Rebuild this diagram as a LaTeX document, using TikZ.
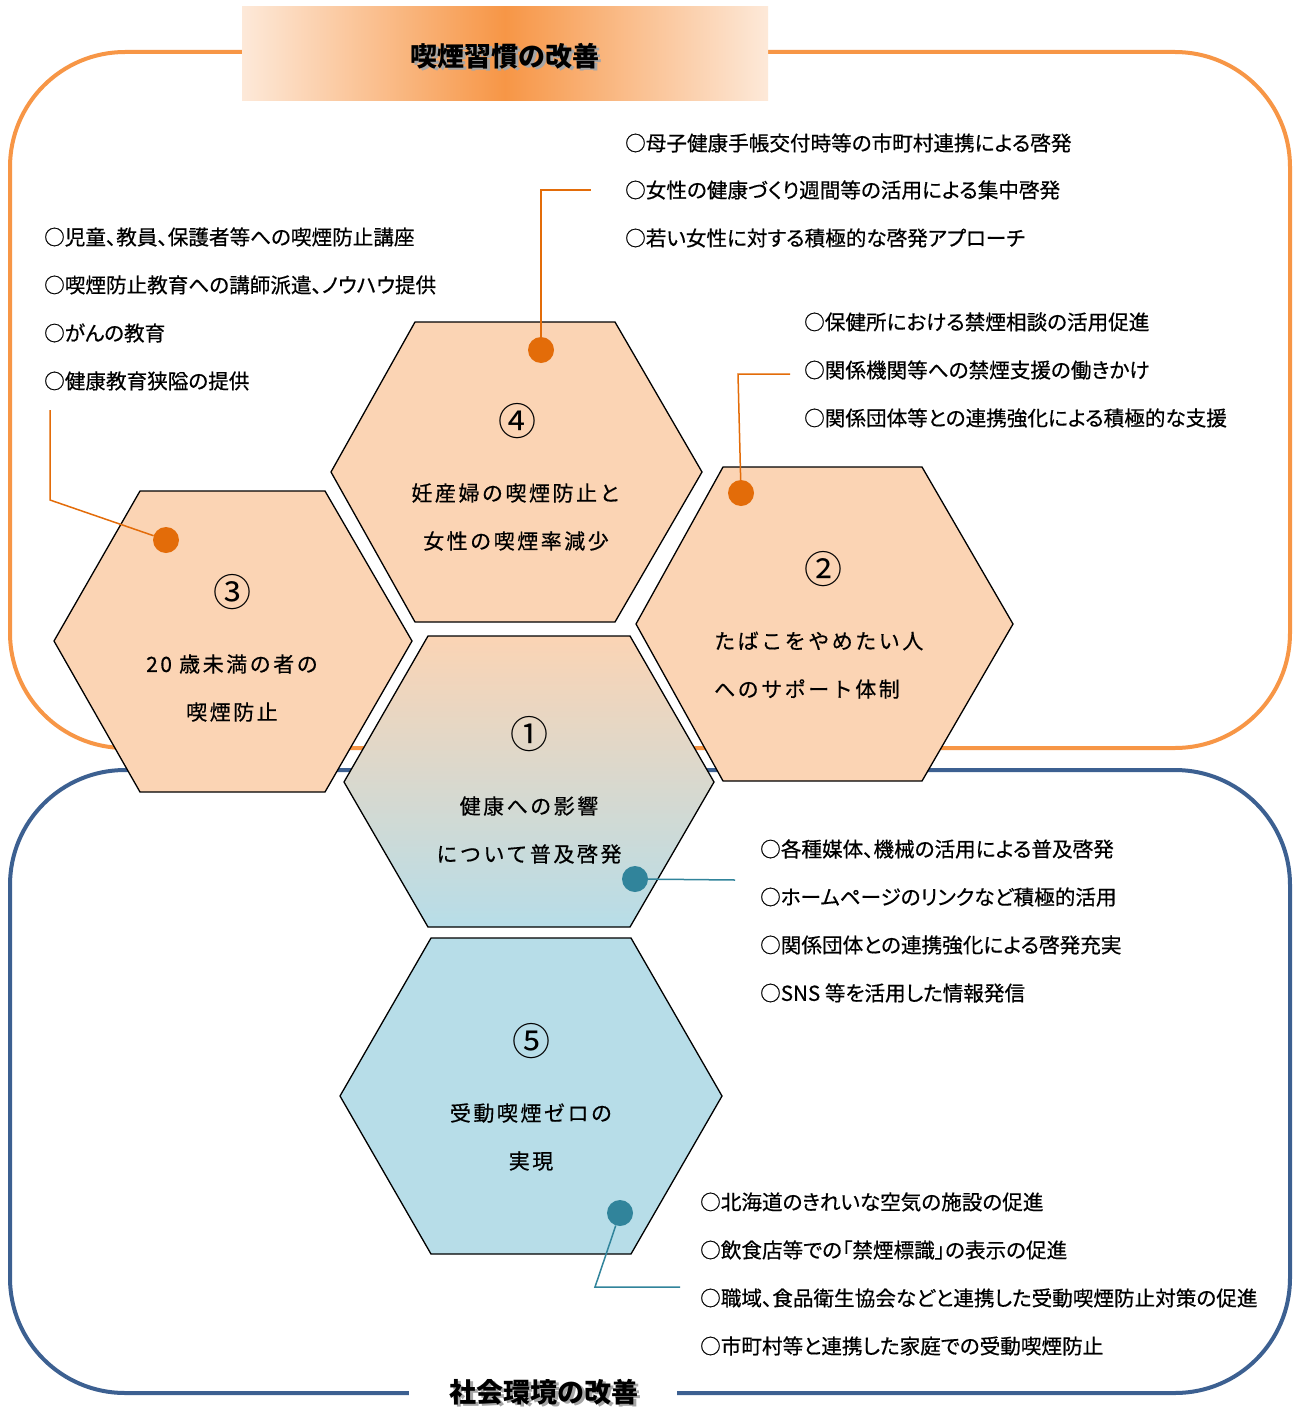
\documentclass[tikz,border=0pt]{standalone}
\usepackage{fontspec}
\newfontfamily\jp[RawFeature=+palt, FakeBold=0.5]{Noto Sans CJK JP}
\newfontfamily\jh[LetterSpace=12, FakeBold=0.5]{Noto Sans CJK JP}
\newfontfamily\jn{Noto Sans CJK JP}
\definecolor{peach}{RGB}{251,212,180}
\definecolor{lblue}{RGB}{183,221,232}
\definecolor{oline}{RGB}{247,150,70}
\definecolor{bline}{RGB}{60,96,145}
\definecolor{dotor}{RGB}{227,108,9}
\definecolor{dotbl}{RGB}{49,132,155}
\definecolor{tlight}{RGB}{253,233,217}
\begin{document}
\begin{tikzpicture}[x=1pt,y=-1pt,
  hexo/.style={draw=black, line width=1.3pt, line join=miter},
  item/.style={anchor=west, inner sep=0pt, font=\jp\fontsize{20.6}{22}\selectfont},
  htext/.style={inner sep=0pt, font=\jh\fontsize{21}{24}\selectfont},
  numtxt/.style={inner sep=0pt, font=\jn\fontsize{38}{40}\selectfont},
  dotO/.style={circle, fill=dotor, minimum size=26pt, inner sep=0pt},
  dotB/.style={circle, fill=dotbl, minimum size=26pt, inner sep=0pt},
  lineO/.style={draw=dotor, line width=1.5pt},
  lineB/.style={draw=dotbl, line width=1.5pt},
  ttl/.style={inner sep=0pt, font=\jn\bfseries\fontsize{27}{29}\selectfont}]
\useasboundingbox (0,0) rectangle (1295,1410);
\fill[white] (0,0) rectangle (1295,1410);
% group frames
\draw[oline, line width=4pt, rounded corners=115pt] (10,52) rectangle (1290,748);
\draw[bline, line width=4pt, rounded corners=115pt] (10,770) rectangle (1290,1393);
% top title
\node (tbox) [minimum width=526pt, minimum height=94pt, inner sep=0pt,
  left color=tlight, right color=tlight, middle color=oline] at (505,54) {};
\node (tshadow) [ttl, text=black!35] at (507.5,58.5) {喫煙習慣の改善};
\node (ttitle) [ttl] at (505,56) {喫煙習慣の改善};
% bottom title
\node (btitle) [ttl, fill=white, minimum width=268pt, minimum height=30pt] at (543,1392) {};
\node (bshadow) [ttl, text=black!35] at (546.5,1394.5) {社会環境の改善};
\node (btext) [ttl] at (544,1392) {社会環境の改善};
% hexagons
\path[hexo, fill=peach] (415,322) -- (615,322) -- (702,472) -- (615,622) -- (415,622) -- (331,472) -- cycle;
\path[hexo, fill=peach] (140,491) -- (325,491) -- (412,641) -- (325,792) -- (140,792) -- (54,641) -- cycle;
\path[hexo, fill=peach] (723,467) -- (922,467) -- (1013,624) -- (922,781) -- (723,781) -- (636,624) -- cycle;
\path[hexo, top color=peach, bottom color=lblue] (428,636) -- (630,636) -- (714,782) -- (630,927) -- (428,927) -- (344,782) -- cycle;
\path[hexo, fill=lblue] (431,938) -- (631,938) -- (722,1096) -- (631,1254) -- (431,1254) -- (340,1096) -- cycle;
% hexagon texts
\node (n4) [numtxt] at (517,421) {④};
\node (h4a) [htext] at (516,493) {妊産婦の喫煙防止と};
\node (h4b) [htext] at (516,541) {女性の喫煙率減少};
\node (n3) [numtxt] at (232,592) {③};
\node (h3a) [htext] at (232,664) {20 歳未満の者の};
\node (h3b) [htext] at (232,712) {喫煙防止};
\node (n2) [numtxt] at (823,569) {②};
\node (h2a) [htext, anchor=west] at (714,641) {たばこをやめたい人};
\node (h2b) [htext, anchor=west] at (714,689) {へのサポート体制};
\node (n1) [numtxt] at (529,734) {①};
\node (h1a) [htext] at (529,806) {健康への影響};
\node (h1b) [htext] at (529,854) {について普及啓発};
\node (n5) [numtxt] at (531,1041) {⑤};
\node (h5a) [htext] at (531,1113) {受動喫煙ゼロの};
\node (h5b) [htext] at (531,1161) {実現};
% dots
\node (d4) [dotO] at (541,350) {};
\node (d3) [dotO] at (166,540) {};
\node (d2) [dotO] at (741,493) {};
\node (d1) [dotB] at (635,879) {};
\node (d5) [dotB] at (620,1213) {};
% connector ends
\coordinate (k4a) at (541,190);
\coordinate (k4b) at (591,190);
\coordinate (k3a) at (50,500);
\coordinate (k3b) at (50,410);
\coordinate (k2a) at (738,374);
\coordinate (k2b) at (790,374);
\coordinate (k1a) at (735,880);
\coordinate (k5a) at (595,1287);
\coordinate (k5b) at (680,1287);
\draw[lineO] (d4) -- (k4a) -- (k4b);
\draw[lineO] (d3) -- (k3a) -- (k3b);
\draw[lineO] (d2) -- (k2a) -- (k2b);
\draw[lineB] (d1) -- (k1a);
\draw[lineB] (d5) -- (k5a) -- (k5b);
% items for 4
\node (i4a) [item] at (625,143) {○母子健康手帳交付時等の市町村連携による啓発};
\node (i4b) [item] at (625,190) {○女性の健康づくり週間等の活用による集中啓発};
\node (i4c) [item] at (625,238) {○若い女性に対する積極的な啓発アプローチ};
% items for 3
\node (i3a) [item] at (44,237) {○児童、教員、保護者等への喫煙防止講座};
\node (i3b) [item] at (44,285) {○喫煙防止教育への講師派遣、ノウハウ提供};
\node (i3c) [item] at (44,333) {○がんの教育};
\node (i3d) [item] at (44,381) {○健康教育狭隘の提供};
% items for 2
\node (i2a) [item] at (804,322) {○保健所における禁煙相談の活用促進};
\node (i2b) [item] at (804,370) {○関係機関等への禁煙支援の働きかけ};
\node (i2c) [item] at (804,418) {○関係団体等との連携強化による積極的な支援};
% items for 1
\node (i1a) [item] at (760,849) {○各種媒体、機械の活用による普及啓発};
\node (i1b) [item] at (760,897) {○ホームページのリンクなど積極的活用};
\node (i1c) [item] at (760,945) {○関係団体との連携強化による啓発充実};
\node (i1d) [item] at (760,993) {○SNS 等を活用した情報発信};
% items for 5
\node (i5a) [item] at (700,1202) {○北海道のきれいな空気の施設の促進};
\node (i5b) [item] at (700,1250) {○飲食店等での「禁煙標識」の表示の促進};
\node (i5c) [item] at (700,1298) {○職域、食品衛生協会などと連携した受動喫煙防止対策の促進};
\node (i5d) [item] at (700,1346) {○市町村等と連携した家庭での受動喫煙防止};
\end{tikzpicture}
\end{document}
